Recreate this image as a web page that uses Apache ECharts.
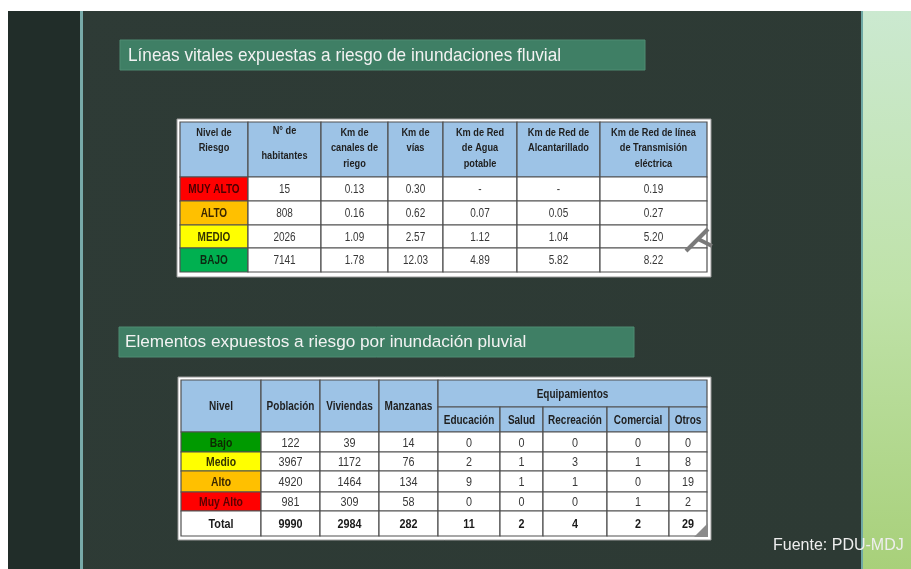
<!DOCTYPE html>
<html>
<head>
<meta charset="utf-8">
<script src="https://cdn.jsdelivr.net/npm/echarts@6/dist/echarts.min.js"></script>
<style>
  html, body { margin: 0; padding: 0; background: #fff; }
  #main { width: 911px; height: 569px; }
</style>
</head>
<body>
<div id="main"></div>
<script>
// ---- data: tabla 1 (inundaciones fluvial) ----
var t1Headers = ["Nivel de\nRiesgo", "N° de\n\nhabitantes", "Km de\ncanales de\nriego", "Km de\nvías",
  "Km de Red\nde Agua\npotable", "Km de Red de\nAlcantarillado", "Km de Red de línea\nde Transmisión\neléctrica"];
var t1Levels = ["MUY ALTO", "ALTO", "MEDIO", "BAJO"];
var t1Habitantes = [15, 808, 2026, 7141];
var t1Canales = ["0.13", "0.16", "1.09", "1.78"];
var t1Vias = ["0.30", "0.62", "2.57", "12.03"];
var t1Agua = ["-", "0.07", "1.12", "4.89"];
var t1Alcantarillado = ["-", "0.05", "1.04", "5.82"];
var t1Electrica = ["0.19", "0.27", "5.20", "8.22"];

// ---- data: tabla 2 (inundación pluvial) ----
var t2Headers = ["Nivel", "Población", "Viviendas", "Manzanas"];
var t2Group = "Equipamientos";
var t2SubHeaders = ["Educación", "Salud", "Recreación", "Comercial", "Otros"];
var t2Levels = ["Bajo", "Medio", "Alto", "Muy Alto"];
var t2Poblacion = [122, 3967, 4920, 981];
var t2Viviendas = [39, 1172, 1464, 309];
var t2Manzanas = [14, 76, 134, 58];
var t2Educacion = [0, 2, 9, 0];
var t2Salud = [0, 1, 1, 0];
var t2Recreacion = [0, 3, 1, 0];
var t2Comercial = [0, 1, 0, 1];
var t2Otros = [0, 8, 19, 2];
var t2Total = ["Total", 9990, 2984, 282, 11, 2, 4, 2, 29];

// ---- layout ----
var colX1 = [180, 248, 321, 388, 443, 517, 600, 707];
var rowY1 = [122, 177, 201, 225, 248, 272];
var colX2 = [181, 261, 320, 379, 438, 500, 543, 607, 669, 707];
var rowY2 = [380, 407, 432, 452, 471, 492, 511, 536];

var HEAD = '#9dc3e6';
var FONT = '"Liberation Sans", Arial, sans-serif';
var NARROW = 0.8; // the slide uses a condensed face
var t1LevelFill = ['#ff0000', '#ffc000', '#ffff00', '#00b050'];
var t1LevelText = ['#4a0000', '#3a2600', '#333300', '#0b2a12'];
var t2LevelFill = ['#009a00', '#ffff00', '#ffc000', '#ff0000'];
var t2LevelText = ['#0d2a00', '#333300', '#3a2600', '#5a0000'];

function cell(cx, ry, c0, c1, r0, r1, text, fill, color, size, bold, vtop, lh) {
  return { x: cx[c0], y: ry[r0], w: cx[c1] - cx[c0], h: ry[r1] - ry[r0],
    text: String(text), fill: fill, color: color, size: size, bold: bold, vtop: vtop, lh: lh };
}

var cells1 = [];
t1Headers.forEach(function (h, i) {
  cells1.push(cell(colX1, rowY1, i, i + 1, 0, 1, h, HEAD, '#1f1f1f', 11.5, true, true, i === 1 ? 12.5 : 15.5));
});
var t1Cols = [t1Habitantes, t1Canales, t1Vias, t1Agua, t1Alcantarillado, t1Electrica];
t1Levels.forEach(function (lv, r) {
  cells1.push(cell(colX1, rowY1, 0, 1, r + 1, r + 2, lv, t1LevelFill[r], t1LevelText[r], 12.5, true));
  t1Cols.forEach(function (col, c) {
    cells1.push(cell(colX1, rowY1, c + 1, c + 2, r + 1, r + 2, col[r], '#ffffff', '#383838', 12.5, false));
  });
});

var cells2 = [];
t2Headers.forEach(function (h, i) {
  cells2.push(cell(colX2, rowY2, i, i + 1, 0, 2, h, HEAD, '#1f1f1f', 12.5, true));
});
cells2.push(cell(colX2, rowY2, 4, 9, 0, 1, t2Group, HEAD, '#1f1f1f', 12.5, true));
t2SubHeaders.forEach(function (h, i) {
  cells2.push(cell(colX2, rowY2, i + 4, i + 5, 1, 2, h, HEAD, '#1f1f1f', 12.5, true));
});
var t2Cols = [t2Poblacion, t2Viviendas, t2Manzanas, t2Educacion, t2Salud, t2Recreacion, t2Comercial, t2Otros];
t2Levels.forEach(function (lv, r) {
  cells2.push(cell(colX2, rowY2, 0, 1, r + 2, r + 3, lv, t2LevelFill[r], t2LevelText[r], 13, true));
  t2Cols.forEach(function (col, c) {
    cells2.push(cell(colX2, rowY2, c + 1, c + 2, r + 2, r + 3, col[r], '#ffffff', '#383838', 13.5, false));
  });
});
t2Total.forEach(function (v, c) {
  cells2.push(cell(colX2, rowY2, c, c + 1, 6, 7, v, '#ffffff', '#1a1a1a', 13.5, true));
});

function tableSeries(cells) {
  return {
    type: 'custom',
    coordinateSystem: 'none',
    silent: true,
    data: cells.map(function (c, i) { return i; }),
    renderItem: function (params) {
      var c = cells[params.dataIndex];
      return {
        type: 'group',
        children: [
          { type: 'rect', shape: { x: c.x, y: c.y, width: c.w, height: c.h },
            style: { fill: c.fill, stroke: '#505050', lineWidth: 1.2 } },
          { type: 'text', x: c.x + c.w / 2, y: c.vtop ? c.y + 3 : c.y + c.h / 2 + 1, scaleX: NARROW,
            style: { text: c.text, fill: c.color, align: 'center',
              verticalAlign: c.vtop ? 'top' : 'middle',
              fontFamily: FONT, fontSize: c.size, fontWeight: c.bold ? 'bold' : 'normal',
              lineHeight: c.lh || c.size + 2 } }
        ]
      };
    }
  };
}

var chart = echarts.init(document.getElementById('main'));
var option = {
  animation: false,
  backgroundColor: '#ffffff',
  graphic: [
    // slide background
    { type: 'rect', z: -10, shape: { x: 8, y: 11, width: 855, height: 558 },
      style: { fill: new echarts.graphic.LinearGradient(0, 0, 1, 1,
        [{ offset: 0, color: '#2e3b36' }, { offset: 1, color: '#2d3a34' }]) } },
    { type: 'rect', z: -9, shape: { x: 8, y: 11, width: 72, height: 558 }, style: { fill: '#212d29' } },
    { type: 'rect', z: -9, shape: { x: 80, y: 11, width: 3, height: 558 }, style: { fill: '#78aaa9' } },
    { type: 'rect', z: -9, shape: { x: 861, y: 11, width: 50, height: 558 },
      style: { fill: new echarts.graphic.LinearGradient(0, 0, 0, 1,
        [{ offset: 0, color: '#cbe9d0' }, { offset: 0.5, color: '#bfe2a9' }, { offset: 1, color: '#a8d07a' }]) } },
    { type: 'rect', z: -8, shape: { x: 861, y: 11, width: 2, height: 558 }, style: { fill: '#6fa8a4' } },
    // title boxes
    { type: 'rect', z: -5, shape: { x: 120, y: 40, width: 525, height: 30 },
      style: { fill: '#3f7f65', stroke: '#4e8c72', lineWidth: 1 } },
    { type: 'text', z: -4, x: 128, y: 56, scaleX: 0.905,
      style: { text: 'Líneas vitales expuestas a riesgo de inundaciones fluvial', fill: '#f2f2f2',
        fontFamily: FONT, fontSize: 19, verticalAlign: 'middle' } },
    { type: 'rect', z: -5, shape: { x: 119, y: 327, width: 515, height: 30 },
      style: { fill: '#3f7f65', stroke: '#4e8c72', lineWidth: 1 } },
    { type: 'text', z: -4, x: 125, y: 342,
      style: { text: 'Elementos expuestos a riesgo por inundación pluvial', fill: '#f2f2f2',
        fontFamily: FONT, fontSize: 17.2, verticalAlign: 'middle' } },
    // table frames
    { type: 'rect', z: -3, shape: { x: 177, y: 119, width: 534, height: 158 },
      style: { fill: '#ffffff', stroke: '#9a9a9a', lineWidth: 1 } },
    { type: 'rect', z: -3, shape: { x: 178, y: 377, width: 533, height: 163 },
      style: { fill: '#ffffff', stroke: '#9a9a9a', lineWidth: 1 } },
    // sketch marks on the right edge of the tables
    { type: 'polyline', z: 10, shape: { points: [[686, 251], [708, 229]] },
      style: { stroke: '#7a7a7a', lineWidth: 4, fill: null } },
    { type: 'polyline', z: 10, shape: { points: [[698, 239], [712, 246]] },
      style: { stroke: '#7a7a7a', lineWidth: 4, fill: null } },
    { type: 'polygon', z: 10, shape: { points: [[694, 537], [708, 523], [708, 537]] },
      style: { fill: '#8a8a8a' } },
    // source
    { type: 'text', z: 5, x: 773, y: 546,
      style: { text: 'Fuente: PDU-MDJ', fill: '#eeeeee',
        fontFamily: FONT, fontSize: 16, verticalAlign: 'middle' } }
  ],
  series: [tableSeries(cells1), tableSeries(cells2)]
};
chart.setOption(option);
</script>
</body>
</html>
